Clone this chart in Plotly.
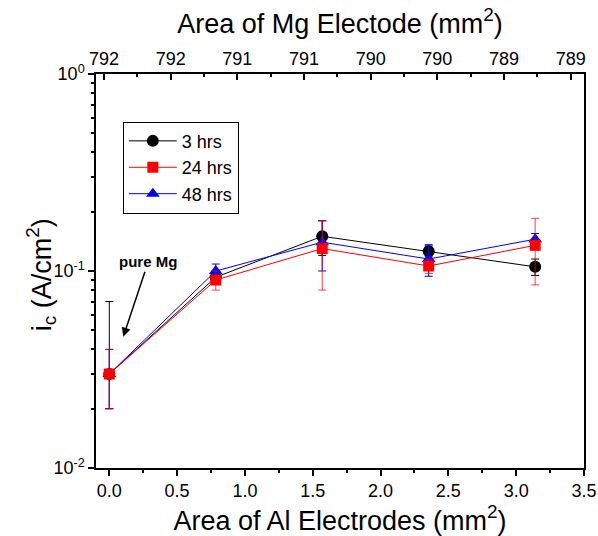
import plotly.graph_objects as go

# ---- data ----
al_area = [0.0, 0.785, 1.57, 2.355, 3.14]

ic_3h = [0.030, 0.093, 0.150, 0.126, 0.105]
err_3h_plus = [0.040, 0.006, 0.030, 0.008, 0.010]
err_3h_minus = [0.010, 0.006, 0.030, 0.008, 0.010]

ic_24h = [0.030, 0.090, 0.130, 0.106, 0.135]
err_24h = [0.010, 0.010, 0.050, 0.009, 0.050]

ic_48h = [0.030, 0.100, 0.140, 0.115, 0.145]
err_48h = [0.010, 0.0085, 0.040, 0.021, 0.010]

series_names = ["3 hrs", "24 hrs", "48 hrs"]

y_tickvals = [0.01, 0.1, 1]
y_ticktext = ["10<sup>-2</sup>", "10<sup>-1</sup>", "10<sup>0</sup>"]
y_minor = [0.02, 0.03, 0.04, 0.05, 0.06, 0.07, 0.08, 0.09,
           0.2, 0.3, 0.4, 0.5, 0.6, 0.7, 0.8, 0.9]

FONT = "Liberation Sans, Arial, sans-serif"

fig = go.Figure()

fig.add_trace(go.Scatter(
    x=al_area, y=ic_3h, name=series_names[0], mode="lines+markers",
    line=dict(color="black", width=1),
    marker=dict(symbol="circle", size=12, color="black"),
    error_y=dict(type="data", symmetric=False, array=err_3h_plus,
                 arrayminus=err_3h_minus, color="black", thickness=1, width=4),
    legendrank=1,
))
fig.add_trace(go.Scatter(
    x=al_area, y=ic_48h, name=series_names[2], mode="lines+markers",
    line=dict(color="blue", width=1),
    marker=dict(symbol="triangle-up", size=12, color="blue"),
    error_y=dict(type="data", array=err_48h, color="blue", thickness=1, width=4),
    legendrank=3,
))
fig.add_trace(go.Scatter(
    x=al_area, y=ic_24h, name=series_names[1], mode="lines+markers",
    line=dict(color="red", width=1),
    marker=dict(symbol="square", size=11, color="red"),
    error_y=dict(type="data", array=err_24h, color="rgba(255,0,0,0.75)", thickness=1, width=4),
    legendrank=2,
))
# empty trace that registers the top (Mg area) axis
fig.add_trace(go.Scatter(x=[], y=[], xaxis="x2", yaxis="y", showlegend=False, hoverinfo="skip"))

fig.add_annotation(
    x=0.103, y=-1.3335, xref="x", yref="y",
    text="<b>pure Mg</b>", showarrow=True,
    ax=25, ay=-75, arrowhead=2, arrowsize=1.2, arrowwidth=1.5, arrowcolor="black",
    font=dict(size=15, color="black", family=FONT),
)
# y-axis title (placed as rotated text, closer to the tick labels as in the original)
fig.add_annotation(
    x=-0.112, y=0.49, xref="paper", yref="paper",
    text="i<sub>c</sub> (A/cm<sup>2</sup>)", textangle=-90, showarrow=False,
    xanchor="center", yanchor="middle",
    font=dict(size=27, color="black", family=FONT),
)

fig.update_layout(
    width=598, height=536,
    margin=dict(l=96, r=14, t=74, b=68),
    paper_bgcolor="white", plot_bgcolor="white",
    font=dict(family=FONT, color="black", size=18),
    showlegend=True,
    legend=dict(x=0.055, y=0.879, xanchor="left", yanchor="top",
                bordercolor="black", borderwidth=1, bgcolor="white",
                font=dict(size=18, family=FONT), tracegroupgap=0, itemwidth=48),
    xaxis=dict(
        range=[-0.098, 3.5], dtick=0.5, tick0=0, tickformat=".1f",
        showline=True, linecolor="black", linewidth=1.5,
        ticks="outside", ticklen=6, tickwidth=1.5, tickcolor="black",
        minor=dict(dtick=0.25, tick0=0, ticks="outside", ticklen=3, tickcolor="black"),
        showgrid=False, zeroline=False, automargin=False,
        tickfont=dict(size=18),
        title=dict(text="Area of Al Electrodes (mm<sup>2</sup>)", font=dict(size=27), standoff=5),
    ),
    xaxis2=dict(
        overlaying="x", side="top", anchor="y",
        range=[792.26, 788.6], dtick=0.5, tick0=792.2, tickformat=".0f",
        showline=True, linecolor="black", linewidth=1.5,
        ticks="inside", ticklen=6, tickwidth=1.5, tickcolor="black",
        minor=dict(dtick=0.25, tick0=792.2, ticks="inside", ticklen=3, tickcolor="black"),
        showgrid=False, zeroline=False, automargin=False,
        tickfont=dict(size=18),
        title=dict(text="Area of Mg Electode (mm<sup>2</sup>)", font=dict(size=27), standoff=8),
    ),
    yaxis=dict(
        type="log", range=[-2, 0],
        tickvals=y_tickvals, ticktext=y_ticktext,
        showline=True, linecolor="black", linewidth=1.5, mirror=True,
        ticks="outside", ticklen=6, tickwidth=1.5, tickcolor="black",
        minor=dict(tickvals=y_minor, ticks="outside", ticklen=3, tickcolor="black"),
        showgrid=False, zeroline=False, automargin=False,
        tickfont=dict(size=18),
    ),
)

fig.write_html("out.html")
